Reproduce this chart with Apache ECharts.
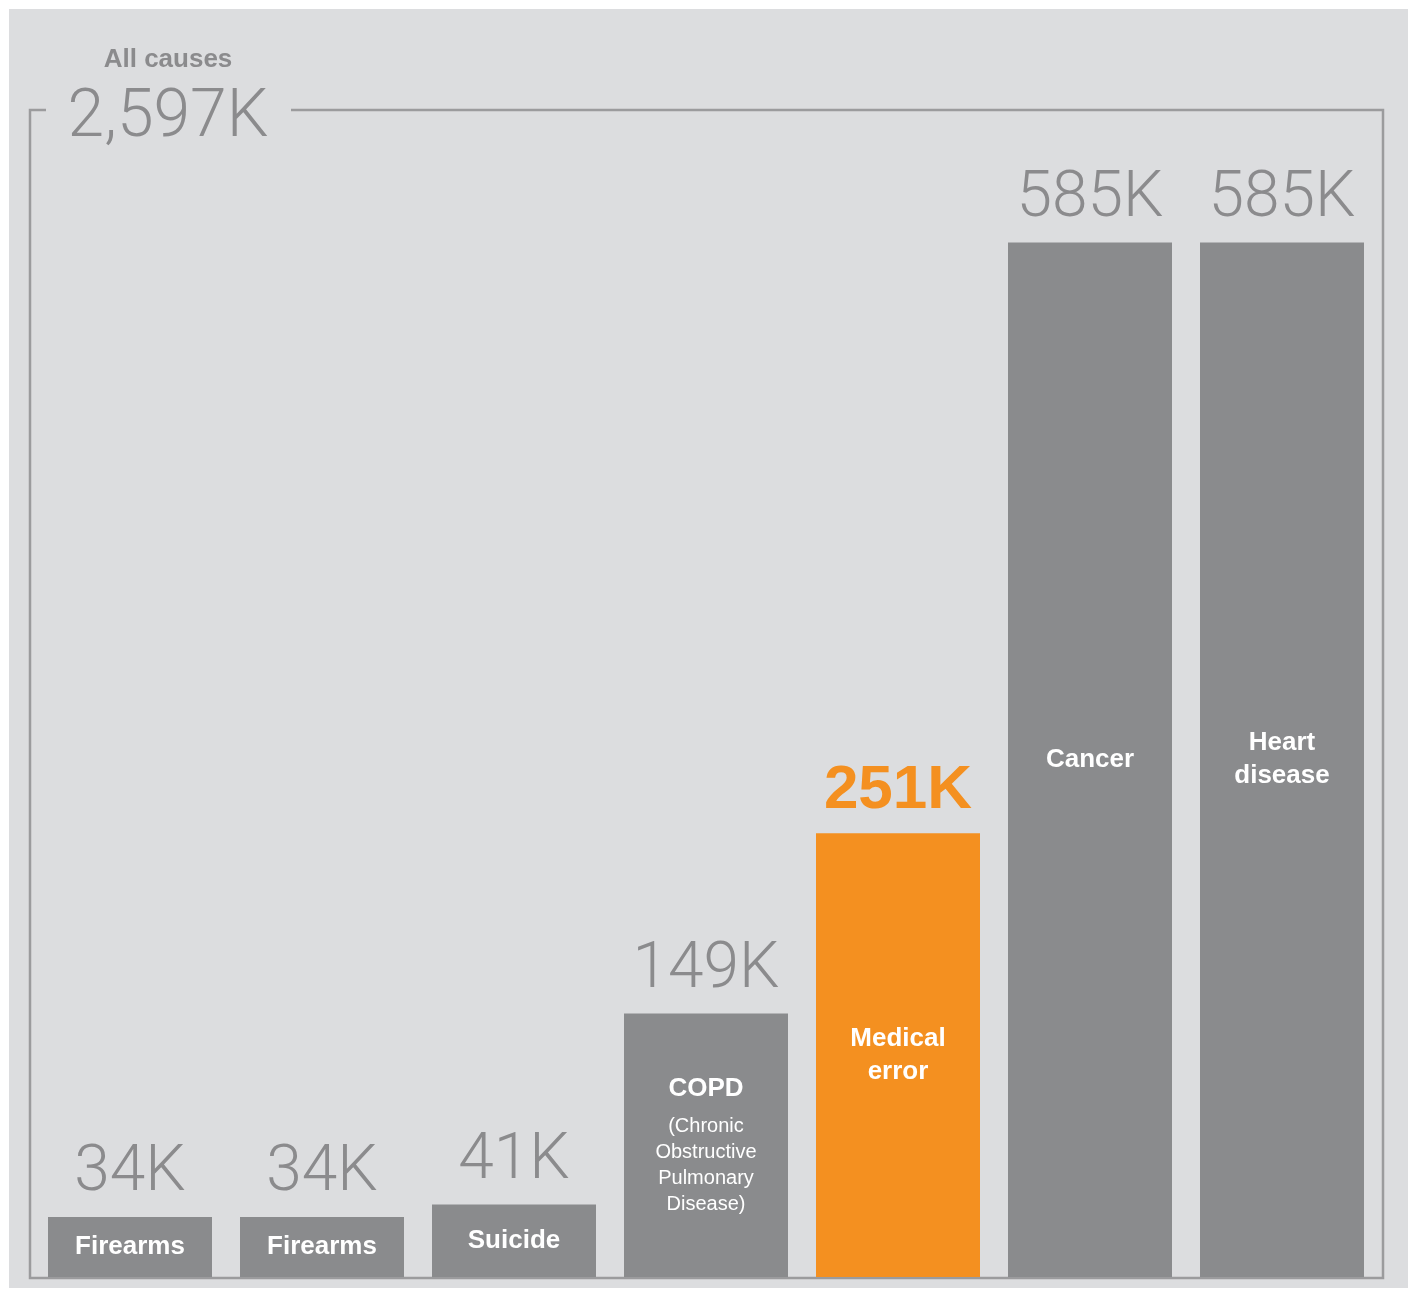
<!DOCTYPE html>
<html>
<head>
<meta charset="utf-8">
<script src="https://cdn.jsdelivr.net/npm/echarts@6/dist/echarts.min.js"></script>
<style>
  html, body { margin: 0; padding: 0; background: #ffffff; }
  #chart { width: 1408px; height: 1289px; }
</style>
</head>
<body>
<div id="chart"></div>
<script>
// causes of death, thousands
const causes = ['Firearms', 'Firearms', 'Suicide', 'COPD', 'Medical\nerror', 'Cancer', 'Heart\ndisease']
const notes = ['', '', '', '(Chronic\nObstructive\nPulmonary\nDisease)', '', '', '']
const deaths = [34, 34, 41, 149, 251, 585, 585]
const valueLabels = ['34K', '34K', '41K', '149K', '251K', '585K', '585K']
const totalLabel = '2,597K'
const totalTitle = 'All causes'
const highlightIndex = 4

const GREY = '#8a8b8d'
const ORANGE = '#f49020'
const FRAME = '#9b9b9d'
const LIGHT_FONT = 'Roboto, "Liberation Sans", sans-serif'
const BOLD_FONT = '"Liberation Sans", Arial, sans-serif'

const chart = echarts.init(document.getElementById('chart'))

const barData = deaths.map((v, i) => ({
  value: v,
  itemStyle: { color: i === highlightIndex ? ORANGE : GREY }
}))

const topData = deaths.map((v, i) => ({
  value: v,
  label: i === highlightIndex
    ? { color: ORANGE, fontWeight: 'bold', fontFamily: BOLD_FONT, fontSize: 62 }
    : {}
}))

const option = {
  animation: false,
  backgroundColor: '#ffffff',
  grid: { left: 34, right: 30, top: 110, bottom: 12 },
  xAxis: {
    type: 'category',
    data: causes,
    show: false
  },
  yAxis: {
    type: 'value',
    min: 0,
    max: 660,
    show: false
  },
  graphic: [
    {
      type: 'rect',
      z: -10,
      shape: { x: 9, y: 9, width: 1399, height: 1279 },
      style: { fill: '#dcdddf' }
    },
    {
      type: 'polyline',
      z: -5,
      shape: { points: [[46, 110], [30, 110], [30, 1278], [1383, 1278], [1383, 110], [291, 110]] },
      style: { stroke: FRAME, lineWidth: 2.5, fill: null }
    },
    {
      type: 'text',
      x: 168, y: 60,
      style: {
        text: totalTitle, fill: '#8b8b8d', font: 'bold 26px ' + BOLD_FONT,
        align: 'center', verticalAlign: 'middle'
      }
    },
    {
      type: 'text',
      x: 168, y: 119,
      style: {
        text: totalLabel, fill: '#8b8b8d', font: '300 66px ' + LIGHT_FONT,
        align: 'center', verticalAlign: 'middle'
      }
    }
  ],
  series: [
    {
      type: 'bar',
      data: barData,
      barWidth: 164,
      label: {
        show: true,
        position: 'inside',
        formatter: p => notes[p.dataIndex]
          ? '{name|' + p.name + '}\n{gap|}\n{note|' + notes[p.dataIndex] + '}'
          : '{name|' + p.name + '}',
        rich: {
          name: { color: '#ffffff', fontFamily: BOLD_FONT, fontWeight: 'bold', fontSize: 26, lineHeight: 33 },
          gap: { fontSize: 6, lineHeight: 8 },
          note: { color: '#ffffff', fontFamily: BOLD_FONT, fontSize: 20, lineHeight: 26 }
        }
      }
    },
    {
      type: 'bar',
      data: topData,
      barWidth: 164,
      barGap: '-100%',
      itemStyle: { color: 'rgba(0,0,0,0)' },
      silent: true,
      label: {
        show: true,
        position: 'top',
        distance: 11,
        color: '#8b8b8d',
        fontFamily: LIGHT_FONT,
        fontWeight: 300,
        fontSize: 64,
        formatter: p => valueLabels[p.dataIndex]
      }
    }
  ]
}

chart.setOption(option)
window.addEventListener('resize', () => chart.resize())
</script>
</body>
</html>
